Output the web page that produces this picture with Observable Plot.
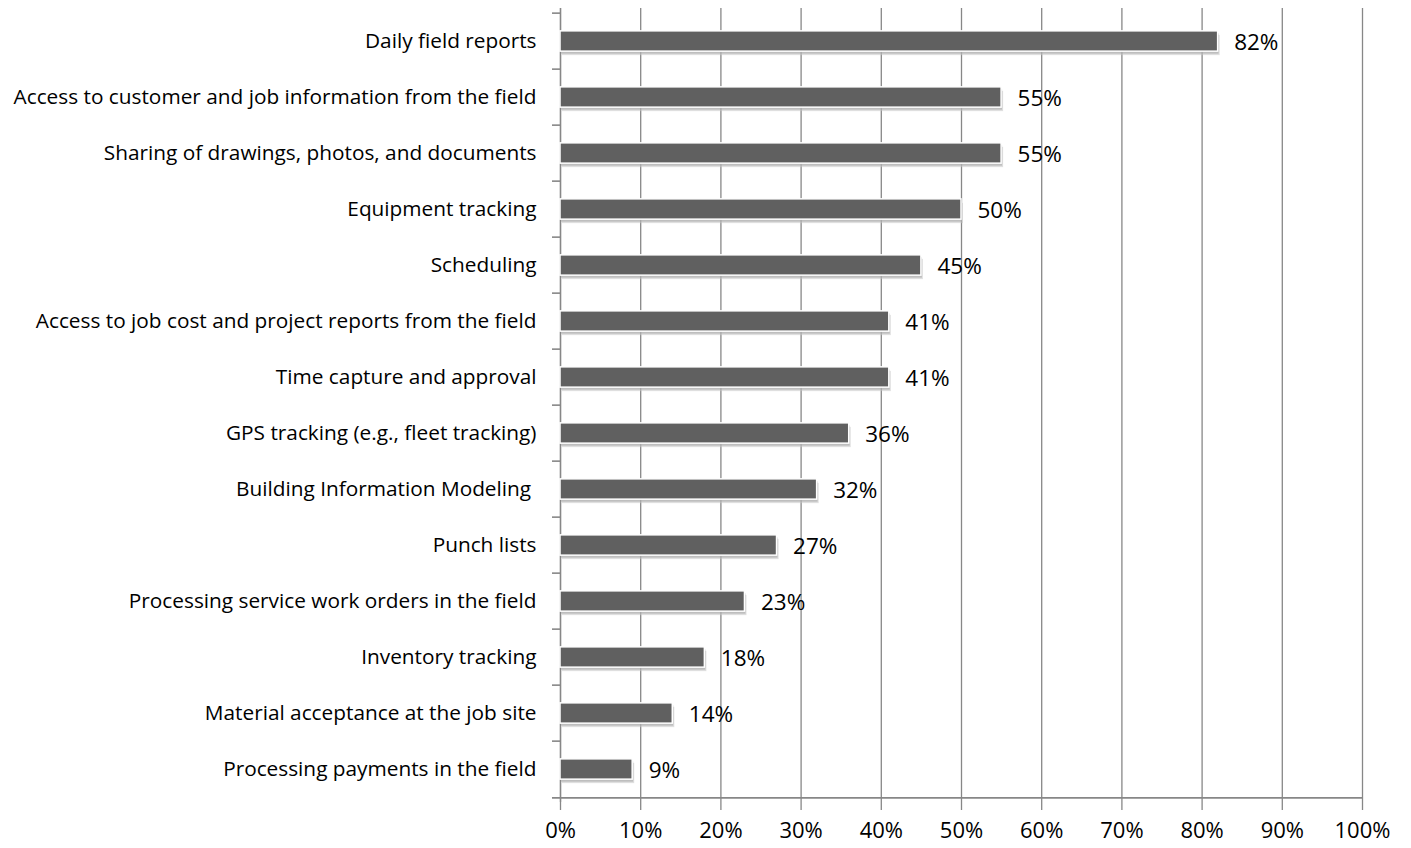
<!DOCTYPE html>
<html>
<head>
<meta charset="utf-8">
<script src="https://cdn.jsdelivr.net/npm/d3@7"></script>
<script src="https://cdn.jsdelivr.net/npm/@observablehq/plot@0.6"></script>
<style>
  html, body { margin: 0; padding: 0; background: #fff; }
  #chart svg { display: block; }
</style>
</head>
<body>
<div id="chart"></div>
<script>
const categories = [
  "Daily field reports",
  "Access to customer and job information from the field",
  "Sharing of drawings, photos, and documents",
  "Equipment tracking",
  "Scheduling",
  "Access to job cost and project reports from the field",
  "Time capture and approval",
  "GPS tracking (e.g., fleet tracking)",
  "Building Information Modeling ",
  "Punch lists",
  "Processing service work orders in the field",
  "Inventory tracking",
  "Material acceptance at the job site",
  "Processing payments in the field"
];
const values = [0.82, 0.55, 0.55, 0.50, 0.45, 0.41, 0.41, 0.36, 0.32, 0.27, 0.23, 0.18, 0.14, 0.09];
const xTicks = [0, 0.1, 0.2, 0.3, 0.4, 0.5, 0.6, 0.7, 0.8, 0.9, 1.0];

const data = categories.map((c, i) => ({category: c, value: values[i]}));

const W = 1411, H = 848;
const mTop = 8, mBottom = 46, mLeft = 560, mRight = 49;
const step = (H - mTop - mBottom) / categories.length;
const inset = (step - 21) / 2;
const gridColor = "#878787";
const font = "'Open Sans', Lato, sans-serif";

const chart = Plot.plot({
  width: W,
  height: H,
  marginTop: mTop,
  marginBottom: mBottom,
  marginLeft: mLeft,
  marginRight: mRight,
  style: {fontFamily: font, color: "#000", background: "#fff"},
  x: {domain: [0, 1], ticks: xTicks, tickFormat: d3.format(".0%"), label: null},
  y: {domain: categories, padding: 0, label: null},
  marks: [
    Plot.ruleX(xTicks.slice(1), {stroke: gridColor, strokeWidth: 1.3}),
    Plot.axisX({
      ticks: xTicks, tickFormat: d3.format(".0%"), tickSize: 8, tickPadding: 12, label: null,
      stroke: gridColor, strokeWidth: 1.3, strokeOpacity: 1, fontSize: 22, fill: "#000"
    }),
    Plot.axisY({tickSize: 0, tickPadding: 24, fontSize: 20.8, fill: "#000", label: null}),
    // y axis line
    Plot.ruleX([0], {stroke: gridColor, strokeWidth: 1.6}),
    // category boundary ticks on the y axis
    Plot.ruleY(categories, {y: d => d, x1: -0.01, x2: 0, dy: -step / 2, stroke: gridColor, strokeWidth: 1.6}),
    Plot.ruleY(categories.slice(-1), {y: d => d, x1: -0.01, x2: 1, dy: step / 2, stroke: gridColor, strokeWidth: 1.6}),
    // shadows
    Plot.barX(data, {x: "value", y: "category", insetTop: inset, insetBottom: inset, dx: 2, dy: 4, fill: "#c4c4c4", fillOpacity: 0.55}),
    Plot.barX(data, {x: "value", y: "category", insetTop: inset, insetBottom: inset, dx: 1, dy: 2.5, fill: "#a8a8a8", fillOpacity: 0.6}),
    // bars
    Plot.barX(data, {x: "value", y: "category", insetTop: inset, insetBottom: inset, fill: "#606060", stroke: "#fff", strokeWidth: 1.5}),
    Plot.text(data, {x: "value", y: "category", text: d => d3.format(".0%")(d.value), textAnchor: "start", dx: 16, dy: 1, fontSize: 22.5, fill: "#000"})
  ]
});
document.getElementById("chart").appendChild(chart);
</script>
</body>
</html>
